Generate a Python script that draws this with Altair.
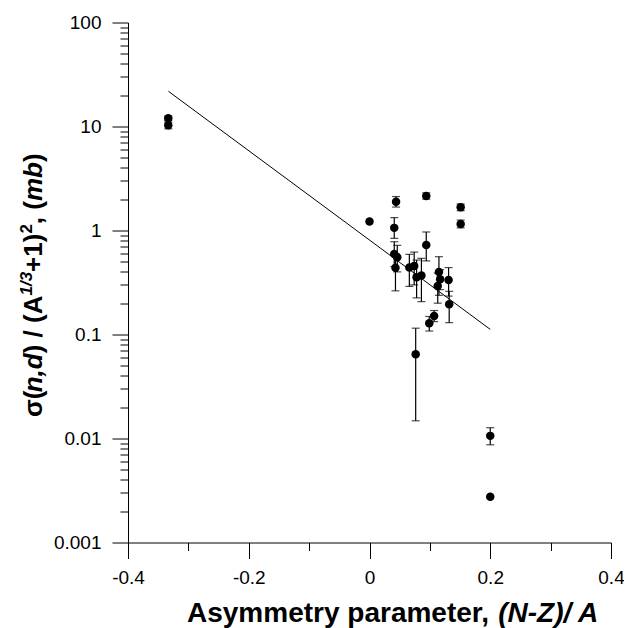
import altair as alt
import pandas as pd

# ---- data ----
asym = [-0.3333, -0.3333, 0.0, 0.044, 0.094, 0.151, 0.151, 0.041, 0.094, 0.041,
        0.046, 0.043, 0.066, 0.074, 0.078, 0.086, 0.115, 0.117, 0.113, 0.131,
        0.132, 0.107, 0.099, 0.0765, 0.2, 0.2]
sigma = [12.0, 10.3, 1.22, 1.89, 2.15, 1.67, 1.155, 1.06, 0.726, 0.594,
         0.552, 0.438, 0.44, 0.456, 0.355, 0.37, 0.40, 0.34, 0.293, 0.334,
         0.195, 0.151, 0.128, 0.0645, 0.0106, 0.00276]
err_lo = [11.4, 9.5, None, 1.68, 2.0, 1.55, 1.06, 0.84, 0.51, 0.45,
          0.40, 0.263, 0.29, 0.30, 0.225, 0.207, 0.238, 0.27, 0.20, 0.234,
          0.13, 0.133, 0.108, 0.0148, 0.0087, None]
err_hi = [12.6, 11.0, None, 2.12, 2.3, 1.80, 1.26, 1.33, 0.968, 0.78,
          0.72, 0.60, 0.59, 0.62, 0.52, 0.54, 0.56, 0.42, 0.39, 0.44,
          0.26, 0.17, 0.149, 0.115, 0.0127, None]
fit_x = [-0.333, 0.2]
fit_y = [21.8, 0.112]

x_ticks = [-0.4, -0.2, 0, 0.2, 0.4]
x_minor = [-0.3, -0.1, 0.1, 0.3]
y_ticks = [0.001, 0.01, 0.1, 1, 10, 100]
y_minor = [k * 10.0 ** e for e in range(-3, 2) for k in range(2, 10)]

df = pd.DataFrame({"asym": asym, "sigma": sigma, "lo": err_lo, "hi": err_hi})
edf = df.dropna()
fdf = pd.DataFrame({"fx": fit_x, "fy": fit_y})

FONT = "Liberation Sans"
xs = alt.Scale(domain=[-0.4, 0.4], nice=False, zero=False)
ys = alt.Scale(type="log", domain=[0.001, 100], nice=False)

ax_major = alt.Axis(values=x_ticks, tickSize=16, labelExpr="toString(datum.value)",
                    labelFontSize=19, labelFont=FONT, labelColor="black", labelPadding=10,
                    domainColor="black", tickColor="black", grid=False, title="",
                    orient="bottom", labelFlush=False, labelOverlap=False)
ay_major = alt.Axis(values=y_ticks, tickSize=16, labelExpr="toString(datum.value)",
                    labelFontSize=19, labelFont=FONT, labelColor="black", labelPadding=11,
                    domainColor="black", tickColor="black", grid=False, title="",
                    orient="left", labelFlush=False, labelOverlap=False)
ax_minor = alt.Axis(values=x_minor, tickSize=8, labels=False, domain=False, grid=False,
                    tickColor="black", title="", orient="bottom")
ay_minor = alt.Axis(values=y_minor, tickSize=8, labels=False, domain=False, grid=False,
                    tickColor="black", title="", orient="left")

points = alt.Chart(df).mark_circle(size=72, color="black", opacity=1).encode(
    x=alt.X("asym:Q", scale=xs, axis=ax_major),
    y=alt.Y("sigma:Q", scale=ys, axis=ay_major),
)
fit = alt.Chart(fdf).mark_line(color="black", strokeWidth=1).encode(
    x=alt.X("fx:Q", scale=xs, axis=ax_minor),
    y=alt.Y("fy:Q", scale=ys, axis=ay_minor),
)
bars = alt.Chart(edf).mark_rule(color="black", strokeWidth=1.2).encode(
    x=alt.X("asym:Q", scale=xs, axis=None),
    y=alt.Y("lo:Q", scale=ys, axis=None),
    y2="hi:Q",
)
cap_lo = alt.Chart(edf).mark_tick(color="black", orient="horizontal", size=8, thickness=1.2).encode(
    x=alt.X("asym:Q", scale=xs, axis=None),
    y=alt.Y("lo:Q", scale=ys, axis=None),
)
cap_hi = alt.Chart(edf).mark_tick(color="black", orient="horizontal", size=8, thickness=1.2).encode(
    x=alt.X("asym:Q", scale=xs, axis=None),
    y=alt.Y("hi:Q", scale=ys, axis=None),
)

# ---- axis titles built from text pieces (mixed italic / superscripts) ----
W = {"σ": 617, "(": 333, ")": 333, "n": 611, ",": 278, "d": 611, " ": 278, "/": 278,
     "A": 722, "1": 556, "3": 556, "+": 584, "2": 556, "m": 889, "b": 611,
     "s": 556, "y": 556, "e": 556, "t": 333, "r": 389, "p": 611, "a": 556,
     "N": 722, "-": 333, "Z": 611}


def tw(s, size):
    return sum(W.get(c, 556) for c in s) / 1000.0 * size


one = pd.DataFrame({"d": [0]})
pieces = []

# x title
XF = 28
x0, xb = 59, 599
for txt, ital in [("Asymmetry parameter, ", False), ("(N-Z)/ A", True)]:
    pieces.append(alt.Chart(one).mark_text(
        text=txt, font=FONT, fontSize=XF, fontWeight="bold",
        fontStyle="italic" if ital else "normal", align="left", baseline="alphabetic",
        color="black").encode(x=alt.value(x0), y=alt.value(xb)))
    x0 += tw(txt, XF)

# y title (rotated, reading upward)
YF, SF = 26, 17
yb_x, y0 = -86, 394.5
for txt, ital, sup in [("σ(", False, False), ("n,d", True, False), (") / (A", False, False),
                       ("1/3", True, True), ("+1)", False, False), ("2", False, True),
                       (", (", False, False), ("mb", True, False), (")", False, False)]:
    size = SF if sup else YF
    pieces.append(alt.Chart(one).mark_text(
        text=txt, font=FONT, fontSize=size, fontWeight="bold", angle=270,
        fontStyle="italic" if ital else "normal", align="left", baseline="alphabetic",
        color="black").encode(x=alt.value(yb_x - (10 if sup else 0)), y=alt.value(y0)))
    y0 -= tw(txt, size)

chart = alt.layer(points, fit, bars, cap_lo, cap_hi, *pieces).resolve_axis(
    x="independent", y="independent"
).properties(
    width=483, height=520,
    autosize=alt.AutoSizeParams(type="none"),
    padding={"left": 120, "top": 14.5, "right": 13, "bottom": 85.5},
).configure_view(stroke=None)

chart.save("out.html", embed_options={"renderer": "svg", "actions": False})
